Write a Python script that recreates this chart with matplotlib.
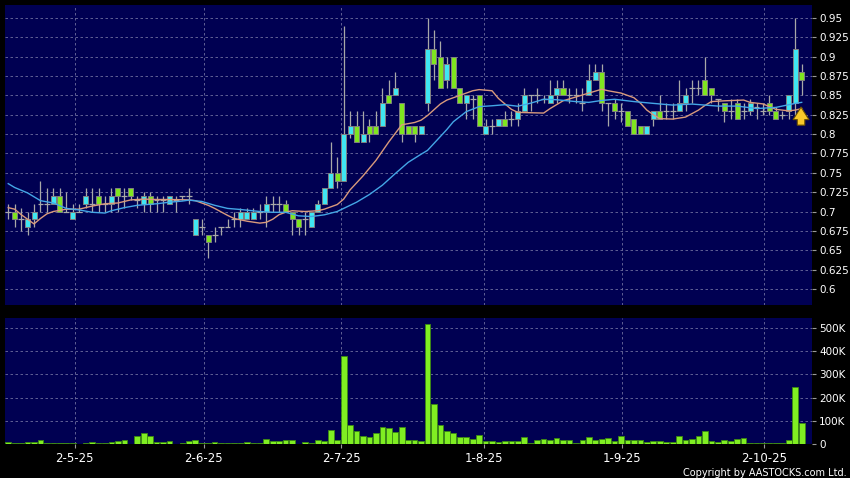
import numpy as np
import matplotlib
matplotlib.use("Agg")
import matplotlib.pyplot as plt
from matplotlib.ticker import FixedLocator, FuncFormatter

# daily OHLC (index 0 = first bar)
opens = [0.70, 0.70, 0.69, 0.68, 0.69, 0.71, 0.71, 0.71, 0.72, 0.70,
         0.69, 0.70, 0.71, 0.71, 0.72, 0.71, 0.71, 0.73, 0.72, 0.73,
         0.715, 0.71, 0.72, 0.715, 0.715, 0.71, 0.715, 0.72, 0.72, 0.67,
         0.68, 0.67, 0.67, 0.68, 0.68, 0.69, 0.69, 0.69, 0.69, 0.70,
         0.70, 0.71, 0.71, 0.71, 0.70, 0.69, 0.69, 0.68, 0.70, 0.71,
         0.73, 0.75, 0.74, 0.80, 0.81, 0.79, 0.81, 0.81, 0.81, 0.85,
         0.85, 0.84, 0.81, 0.81, 0.80, 0.84, 0.91, 0.90, 0.87, 0.90,
         0.86, 0.84, 0.845, 0.85, 0.80, 0.81, 0.81, 0.82, 0.82, 0.82,
         0.83, 0.85, 0.85, 0.845, 0.84, 0.85, 0.86, 0.85, 0.85, 0.84,
         0.85, 0.87, 0.88, 0.84, 0.84, 0.83, 0.83, 0.82, 0.81, 0.80,
         0.82, 0.83, 0.83, 0.83, 0.83, 0.84, 0.86, 0.86, 0.87, 0.86,
         0.845, 0.84, 0.83, 0.84, 0.83, 0.83, 0.835, 0.83, 0.84, 0.83,
         0.825, 0.83, 0.84, 0.88]
highs = [0.71, 0.71, 0.705, 0.70, 0.71, 0.74, 0.73, 0.73, 0.73, 0.725,
         0.71, 0.71, 0.73, 0.73, 0.73, 0.72, 0.73, 0.73, 0.73, 0.73,
         0.72, 0.725, 0.725, 0.72, 0.72, 0.72, 0.72, 0.72, 0.73, 0.69,
         0.69, 0.67, 0.68, 0.68, 0.69, 0.70, 0.705, 0.705, 0.705, 0.71,
         0.72, 0.72, 0.72, 0.715, 0.70, 0.69, 0.70, 0.70, 0.715, 0.73,
         0.79, 0.77, 0.94, 0.83, 0.83, 0.83, 0.82, 0.83, 0.86, 0.87,
         0.88, 0.84, 0.81, 0.81, 0.81, 0.95, 0.935, 0.92, 0.90, 0.90,
         0.86, 0.85, 0.85, 0.85, 0.82, 0.82, 0.82, 0.83, 0.83, 0.84,
         0.86, 0.85, 0.86, 0.85, 0.87, 0.87, 0.87, 0.86, 0.86, 0.86,
         0.89, 0.89, 0.89, 0.84, 0.845, 0.84, 0.83, 0.82, 0.81, 0.81,
         0.83, 0.85, 0.84, 0.84, 0.87, 0.86, 0.87, 0.87, 0.90, 0.86,
         0.845, 0.84, 0.845, 0.845, 0.84, 0.845, 0.84, 0.84, 0.85, 0.835,
         0.83, 0.85, 0.95, 0.89]
lows = [0.69, 0.68, 0.675, 0.67, 0.68, 0.70, 0.70, 0.71, 0.70, 0.70,
        0.69, 0.70, 0.705, 0.70, 0.70, 0.70, 0.70, 0.70, 0.705, 0.715,
        0.705, 0.70, 0.70, 0.70, 0.70, 0.71, 0.70, 0.715, 0.71, 0.67,
        0.67, 0.64, 0.66, 0.67, 0.68, 0.68, 0.68, 0.69, 0.69, 0.69,
        0.68, 0.70, 0.70, 0.70, 0.67, 0.67, 0.67, 0.68, 0.70, 0.71,
        0.73, 0.73, 0.74, 0.795, 0.79, 0.79, 0.79, 0.80, 0.81, 0.84,
        0.85, 0.79, 0.80, 0.79, 0.80, 0.83, 0.87, 0.86, 0.86, 0.86,
        0.84, 0.82, 0.82, 0.81, 0.80, 0.80, 0.81, 0.81, 0.81, 0.81,
        0.83, 0.83, 0.84, 0.84, 0.84, 0.84, 0.85, 0.84, 0.84, 0.83,
        0.85, 0.87, 0.83, 0.81, 0.82, 0.815, 0.81, 0.80, 0.80, 0.80,
        0.81, 0.82, 0.82, 0.82, 0.83, 0.83, 0.84, 0.85, 0.85, 0.84,
        0.83, 0.815, 0.82, 0.82, 0.82, 0.825, 0.82, 0.825, 0.825, 0.82,
        0.82, 0.82, 0.825, 0.85]
closes = [0.70, 0.69, 0.69, 0.69, 0.70, 0.71, 0.71, 0.72, 0.70, 0.70,
          0.70, 0.70, 0.72, 0.71, 0.71, 0.71, 0.72, 0.72, 0.72, 0.72,
          0.715, 0.72, 0.71, 0.715, 0.715, 0.72, 0.715, 0.72, 0.72, 0.69,
          0.68, 0.66, 0.67, 0.68, 0.68, 0.69, 0.70, 0.70, 0.70, 0.70,
          0.71, 0.71, 0.71, 0.70, 0.69, 0.68, 0.69, 0.70, 0.71, 0.73,
          0.75, 0.74, 0.80, 0.81, 0.79, 0.80, 0.80, 0.80, 0.84, 0.84,
          0.86, 0.80, 0.80, 0.80, 0.81, 0.91, 0.89, 0.86, 0.89, 0.86,
          0.84, 0.85, 0.845, 0.81, 0.81, 0.81, 0.82, 0.81, 0.82, 0.83,
          0.85, 0.85, 0.85, 0.845, 0.85, 0.86, 0.85, 0.85, 0.85, 0.84,
          0.87, 0.88, 0.84, 0.84, 0.83, 0.83, 0.81, 0.80, 0.80, 0.81,
          0.83, 0.82, 0.83, 0.83, 0.84, 0.85, 0.86, 0.86, 0.85, 0.85,
          0.845, 0.83, 0.83, 0.82, 0.83, 0.84, 0.835, 0.83, 0.83, 0.82,
          0.825, 0.85, 0.91, 0.87]

# volume in thousands
volume = [8, 5, 5, 8, 10, 17, 5, 5, 5, 4,
          4, 1, 5, 8, 5, 5, 8, 11, 17, 2,
          36, 46, 33, 10, 10, 13, 1, 3, 13, 17,
          5, 4, 10, 5, 3, 5, 5, 8, 5, 5,
          22, 13, 13, 19, 19, 1, 8, 4, 17, 14,
          61, 17, 380, 84, 58, 36, 29, 46, 75, 67,
          51, 74, 16, 16, 12,
          515, 171, 83, 58, 48, 32, 32, 23, 39, 14,
          14, 9, 13, 13, 13, 29, 6, 16, 22, 16,
          28, 16, 19, 6, 17, 29, 17, 22, 25, 14,
          36, 16, 16, 16, 9, 14, 14, 7, 7, 36,
          16, 23, 33, 58, 12, 9, 17, 12, 22, 25,
          6, 6, 3, 3, 3, 4, 19, 246, 90]

# moving averages (bar index, value)
ma_short_idx = [0, 1, 2, 3, 4, 5, 6, 7, 9, 11, 13, 15, 17, 19, 21, 23, 25, 28, 29, 30,
                31, 32, 34, 35, 37, 39, 40, 41, 42, 43, 44, 46, 48, 49, 51, 52, 53, 55, 57, 59,
                60, 61, 63, 64, 65, 67, 68, 70, 72, 73, 75, 76, 78, 79, 83, 84, 86, 88, 90, 92,
                93, 95, 97, 98, 99, 100, 101, 103, 105, 107, 108, 109, 111, 114, 115, 117, 119, 121, 122, 123]
ma_short = [0.705, 0.703, 0.696, 0.690, 0.684, 0.691, 0.697, 0.700, 0.703, 0.703,
            0.707, 0.710, 0.711, 0.715, 0.716, 0.7155, 0.7155, 0.715, 0.714, 0.711,
            0.708, 0.704, 0.695, 0.691, 0.6875, 0.685, 0.686, 0.690, 0.696, 0.699,
            0.701, 0.700, 0.701, 0.703, 0.709, 0.716, 0.728, 0.746, 0.766, 0.790,
            0.801, 0.812, 0.815, 0.818, 0.824, 0.839, 0.844, 0.850, 0.856, 0.8575,
            0.856, 0.846, 0.832, 0.828, 0.8272, 0.833, 0.843, 0.848, 0.853, 0.858,
            0.856, 0.853, 0.847, 0.840, 0.831, 0.825, 0.820, 0.8194, 0.822, 0.831,
            0.837, 0.842, 0.843, 0.844, 0.841, 0.839, 0.832, 0.830, 0.831, 0.833]
ma_long_idx = [0, 1, 3, 5, 7, 9, 11, 13, 15, 16, 18, 20, 23, 25, 27, 28, 30, 32, 34, 36,
               39, 41, 43, 45, 47, 49, 51, 52, 54, 56, 58, 60, 62, 64, 65, 66, 68, 69, 71, 73,
               75, 77, 79, 81, 83, 85, 88, 90, 92, 94, 95, 97, 100, 103, 106, 110, 113, 116, 119, 122, 123]
ma_long = [0.736, 0.731, 0.724, 0.714, 0.711, 0.704, 0.702, 0.699, 0.698, 0.701,
           0.705, 0.708, 0.710, 0.712, 0.7135, 0.7147, 0.713, 0.708, 0.704, 0.7026,
           0.700, 0.699, 0.699, 0.6944, 0.6935, 0.6957, 0.700, 0.704, 0.712, 0.722,
           0.734, 0.749, 0.7635, 0.774, 0.779, 0.788, 0.806, 0.816, 0.829, 0.8355,
           0.8366, 0.838, 0.836, 0.840, 0.845, 0.8444, 0.842, 0.841, 0.8435, 0.845,
           0.844, 0.842, 0.8397, 0.8375, 0.8388, 0.8362, 0.8362, 0.833, 0.8345, 0.8397, 0.841]

date_labels = ["2-5-25", "2-6-25", "2-7-25", "1-8-25", "1-9-25", "2-10-25"]
date_pos = [10.3, 30.3, 51.6, 73.8, 95.1, 117.2]
price_ticks = [0.6, 0.625, 0.65, 0.675, 0.7, 0.725, 0.75, 0.775, 0.8, 0.825, 0.85, 0.875, 0.9, 0.925, 0.95]
vol_ticks = [0, 100, 200, 300, 400, 500]

UP = "#3fe6f2"
DOWN = "#7fe51f"
PANEL = "#000052"
GRIDC = "#6f6f9f"

fig = plt.figure(figsize=(8.5, 4.78), dpi=100, facecolor="black")
ax = fig.add_axes([5 / 850, 1 - 305 / 478, 807 / 850, 300 / 478])
axv = fig.add_axes([5 / 850, 1 - 444 / 478, 807 / 850, 126 / 478])

o = np.array(opens)
h = np.array(highs)
l = np.array(lows)
c = np.array(closes)
x = np.arange(len(o))

for a in (ax, axv):
    a.set_facecolor(PANEL)
    for s in a.spines.values():
        s.set_visible(False)
    a.set_xlim(-0.5, 124.6)
    a.xaxis.set_major_locator(FixedLocator(date_pos))
    a.grid(True, color=GRIDC, ls=(0, (3, 3)), lw=0.6)
    a.set_axisbelow(True)
    a.yaxis.tick_right()
    a.tick_params(axis="y", colors="#9a9a9a", labelcolor="white", length=3, width=0.8,
                  labelsize=7.5, pad=2)

# wicks
ax.vlines(x, l, h, color="#a8a8a8", lw=0.9, zorder=2)
# bodies
doji = o == c
up = c > o
body_col = np.where(up, UP, DOWN)
nd = ~doji
ax.bar(x[nd], np.abs(c - o)[nd], bottom=np.minimum(o, c)[nd], width=0.78,
       color=body_col[nd], edgecolor="#808080", lw=0.7, zorder=3)
ax.hlines(o[doji], x[doji] - 0.45, x[doji] + 0.45, color="#a8a8a8", lw=0.9, zorder=3)

ax.plot(ma_short_idx, ma_short, color="#d99a7c", lw=1.0, zorder=4)
ax.plot(ma_long_idx, ma_long, color="#44a6e6", lw=1.0, zorder=4)

# yellow arrow at the last bars
ax.annotate("", xy=(122.9, 0.8385), xytext=(122.9, 0.808),
            arrowprops=dict(arrowstyle="simple,head_width=0.95,head_length=0.75,tail_width=0.45",
                            fc="#f8c82a", ec="#6e5200", lw=0.8, mutation_scale=12), zorder=6)

ax.set_ylim(0.5792, 0.9668)
ax.yaxis.set_major_locator(FixedLocator(price_ticks))
ax.yaxis.set_major_formatter(FuncFormatter(lambda v, p: "%g" % round(v, 3)))
ax.tick_params(axis="x", length=0, labelbottom=False)

axv.bar(x, volume, width=0.88, color="#80ee22", edgecolor="#3c8a12", lw=0.6, zorder=3)
axv.set_ylim(0, 543)
axv.yaxis.set_major_locator(FixedLocator(vol_ticks))
axv.yaxis.set_major_formatter(FuncFormatter(lambda v, p: "0" if v == 0 else "%dK" % v))
axv.set_xticklabels(date_labels)
axv.tick_params(axis="x", colors="#9a9a9a", labelcolor="white", length=3, width=0.8,
                labelsize=8.5, pad=3)

fig.text(0.996, 0.0, "Copyright by AASTOCKS.com Ltd.", color="white", fontsize=7,
         ha="right", va="bottom")

fig.savefig("out.png", dpi=100, facecolor="black")
